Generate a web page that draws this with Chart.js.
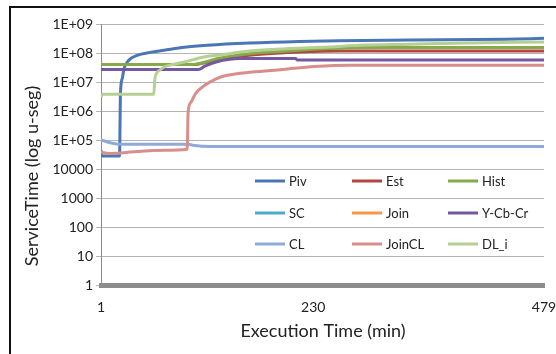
<!DOCTYPE html>
<html>
<head>
<meta charset="utf-8">
<script src="https://cdn.jsdelivr.net/npm/chart.js@4/dist/chart.umd.min.js"></script>
<style>
  html, body { margin: 0; padding: 0; background: #fff; }
  #wrap { position: relative; width: 556px; height: 354px; overflow: hidden; }
  #frame { position: absolute; left: 9px; top: 6px; width: 600px; height: 400px;
           border-top: 2px solid #111; border-left: 2px solid #111; pointer-events: none; }
  canvas { display: block; }
</style>
</head>
<body>
<div id="wrap">
  <canvas id="c" width="556" height="354"></canvas>
  <div id="frame"></div>
</div>
<script>
// Service time per query type (microseconds) over execution time (minutes)
const pivMinutes = [1, 2, 21, 22, 24, 26, 31, 40, 54, 69, 91, 116, 161, 215, 258, 334, 437, 479];
const piv        = [4.4e4, 2.8e4, 2.8e4, 4.0e6, 1.35e7, 3.0e7, 5.6e7, 8.3e7, 1.05e8, 1.24e8, 1.58e8, 1.85e8, 2.2e8, 2.5e8, 2.65e8, 2.8e8, 3.0e8, 3.2e8];

const estMinutes = [1, 100, 110, 126, 140, 161, 190, 215, 260, 479];
const est        = [4.0e7, 4.0e7, 4.4e7, 5.6e7, 6.8e7, 8.3e7, 9.8e7, 1.08e8, 1.17e8, 1.17e8];

const histMinutes = [1, 101, 113, 126, 140, 161, 190, 215, 247, 300, 479];
const hist        = [4.0e7, 4.0e7, 4.8e7, 6.3e7, 7.8e7, 9.5e7, 1.1e8, 1.24e8, 1.42e8, 1.54e8, 1.54e8];

const scMinutes = [];
const sc        = [];

const joinMinutes = [];
const join        = [];

const ycbcrMinutes = [1, 106, 113, 126, 140, 150, 211, 213, 479];
const ycbcr        = [2.7e7, 2.7e7, 3.5e7, 5.0e7, 6.1e7, 6.4e7, 6.4e7, 5.7e7, 5.7e7];

const clMinutes = [1, 12, 22, 95, 100, 120, 479];
const cl        = [1.0e5, 7.9e4, 7.1e4, 7.1e4, 6.6e4, 6.0e4, 6.0e4];

const joinClMinutes = [1, 10, 40, 69, 94, 95, 98, 103, 113, 124, 137, 164, 197, 231, 270, 479];
const joinCl        = [3.8e4, 3.4e4, 4.0e4, 4.4e4, 4.8e4, 9.0e5, 2.0e6, 4.0e6, 7.7e6, 1.24e7, 1.7e7, 2.2e7, 2.7e7, 3.4e7, 3.8e7, 3.8e7];

const dlMinutes = [1, 3, 57, 58, 59, 61, 64, 69, 80, 91, 112, 126, 161, 204, 247, 280, 334, 396, 479];
const dl        = [3.0e6, 3.8e6, 3.8e6, 3.8e6, 1.15e7, 2.0e7, 2.5e7, 3.3e7, 4.1e7, 4.9e7, 7.3e7, 8.3e7, 1.17e8, 1.42e8, 1.61e8, 1.84e8, 2.0e8, 2.2e8, 2.4e8];

const seriesNames = ['Piv', 'Est', 'Hist', 'SC', 'Join', 'Y-Cb-Cr', 'CL', 'JoinCL', 'DL_i'];
const seriesColors = ['#4A76B6', '#B4453F', '#86A94A', '#4BACC6', '#F79646', '#7559A0', '#8EAADA', '#D88E8B', '#B5D092'];
const seriesMinutes = [pivMinutes, estMinutes, histMinutes, scMinutes, joinMinutes, ycbcrMinutes, clMinutes, joinClMinutes, dlMinutes];
const seriesValues = [piv, est, hist, sc, join, ycbcr, cl, joinCl, dl];

const xTicks = [1, 230, 479];
const yTickLabels = ['1', '10', '100', '1000', '10000', '1E+05', '1E+06', '1E+07', '1E+08', '1E+09'];

const xTitle = 'Execution Time (min)';
const yTitle = 'ServiceTime (log u-seg)';

const FONT = 'Lato, "Open Sans", sans-serif';

const datasets = seriesNames.map((name, i) => ({
  label: name,
  data: seriesMinutes[i].map((t, k) => ({ x: t, y: seriesValues[i][k] })),
  borderColor: seriesColors[i],
  backgroundColor: seriesColors[i],
  borderWidth: 3,
  pointRadius: 0,
  fill: false,
  cubicInterpolationMode: 'monotone',
  order: seriesNames.length - i   // later series are painted on top
}));

// 3x3 legend inside the plot area, plus the two axis titles
const overlay = {
  id: 'overlay',
  afterDraw(chart) {
    const ctx = chart.ctx;
    const a = chart.chartArea;
    ctx.save();
    ctx.font = '13px ' + FONT;
    ctx.textBaseline = 'middle';
    ctx.textAlign = 'left';
    const colX = [154, 251, 347];
    const rowY = [157, 189, 220];
    chart.data.datasets.forEach((ds, i) => {
      const x = a.left + colX[i % 3];
      const y = a.top + rowY[Math.floor(i / 3)];
      ctx.strokeStyle = ds.borderColor;
      ctx.lineWidth = 3;
      ctx.beginPath();
      ctx.moveTo(x, y);
      ctx.lineTo(x + 30, y);
      ctx.stroke();
      ctx.fillStyle = '#222';
      ctx.fillText(ds.label, x + 34, y + 1);
    });

    ctx.fillStyle = '#222';
    ctx.font = '18px ' + FONT;
    ctx.textAlign = 'center';
    ctx.fillText(xTitle, 323, 331);
    ctx.translate(32, 176);
    ctx.rotate(-Math.PI / 2);
    ctx.fillText(yTitle, 0, 0);
    ctx.restore();
  }
};

new Chart(document.getElementById('c'), {
  type: 'line',
  data: { datasets },
  options: {
    responsive: false,
    animation: false,
    layout: { padding: { left: 0, top: 24, right: 12, bottom: 0 } },
    plugins: { legend: { display: false }, tooltip: { enabled: false } },
    scales: {
      x: {
        type: 'linear',
        min: 1,
        max: 479,
        afterBuildTicks: s => { s.ticks = xTicks.map(v => ({ value: v })); },
        afterFit: s => { s.height = 69; s.paddingLeft = 0; s.paddingRight = 0; },
        grid: { display: false, drawTicks: false },
        border: { display: true, color: '#8C8C8C', width: 5 },
        ticks: { padding: 14, maxRotation: 0, color: '#222', font: { family: FONT, size: 14 } }
      },
      y: {
        type: 'logarithmic',
        min: 1,
        max: 1e9,
        afterBuildTicks: s => { s.ticks = yTickLabels.map((_, i) => ({ value: Math.pow(10, i) })); },
        afterFit: s => { s.width = 101; s.paddingTop = 0; s.paddingBottom = 0; },
        grid: { color: '#B4B4B4', lineWidth: 1, tickLength: 5, drawTicks: true },
        border: { display: true, color: '#8C8C8C', width: 1 },
        ticks: {
          padding: 3,
          color: '#222',
          font: { family: FONT, size: 14 },
          callback: v => yTickLabels[Math.round(Math.log10(v))]
        }
      }
    }
  },
  plugins: [overlay]
});
</script>
</body>
</html>
